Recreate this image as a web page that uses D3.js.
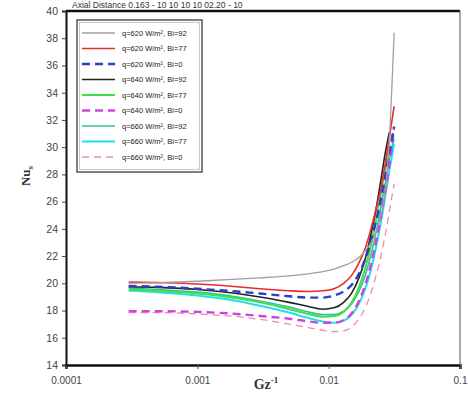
<!DOCTYPE html>
<html><head><meta charset="utf-8">
<script src="https://cdn.jsdelivr.net/npm/d3@7"></script>
<style>
html,body{margin:0;padding:0;background:#fff;}
svg{display:block;}
</style></head>
<body>
<svg id="chart" width="468" height="412"></svg>
<script>
// ---- data ----
const gzInv = [0.0003, 0.0005, 0.001, 0.002, 0.003, 0.005, 0.007, 0.009, 0.011, 0.013, 0.015, 0.017, 0.019, 0.021, 0.023, 0.025, 0.027, 0.029, 0.0315];
const seriesNames = [
  "q=620 W/m², Bi=92", "q=620 W/m², Bi=77", "q=620 W/m², Bi=0",
  "q=640 W/m², Bi=92", "q=640 W/m², Bi=77", "q=640 W/m², Bi=0",
  "q=660 W/m², Bi=92", "q=660 W/m², Bi=77", "q=660 W/m², Bi=0"
];
const q620Bi92 = [20.0, 20.05, 20.15, 20.3, 20.4, 20.55, 20.7, 20.85, 21.05, 21.3, 21.55, 21.9, 22.4, 23.0, 23.8, 25.0, 26.8, 30.6, 38.4];
const q620Bi77 = [20.1, 20.05, 19.95, 19.75, 19.6, 19.45, 19.4, 19.45, 19.6, 20.0, 20.6, 21.5, 22.6, 24.0, 25.5, 27.0, 28.8, 30.7, 33.0];
const q620Bi0  = [19.8, 19.75, 19.6, 19.4, 19.25, 19.05, 18.95, 18.95, 19.1, 19.4, 19.9, 20.7, 21.8, 23.1, 24.6, 26.2, 27.9, 29.6, 31.5];
const q640Bi92 = [19.75, 19.7, 19.55, 19.25, 19.0, 18.6, 18.3, 18.1, 18.2, 18.6, 19.3, 20.4, 21.8, 23.6, 25.5, 27.6, 29.6, 31.1, null];
const q640Bi77 = [19.55, 19.45, 19.25, 18.9, 18.6, 18.1, 17.75, 17.55, 17.6, 17.9, 18.6, 19.7, 21.1, 22.8, 24.7, 26.6, 28.5, 30.2, null];
const q640Bi0  = [17.95, 17.95, 17.9, 17.75, 17.6, 17.4, 17.2, 17.1, 17.1, 17.3, 17.8, 18.7, 19.9, 21.4, 23.1, 24.9, 26.8, 28.7, 31.5];
const q660Bi92 = [19.65, 19.55, 19.35, 19.0, 18.7, 18.25, 17.9, 17.7, 17.7, 17.95, 18.5, 19.4, 20.6, 22.1, 23.8, 25.6, 27.4, 29.2, 30.6];
const q660Bi77 = [19.45, 19.35, 19.1, 18.7, 18.35, 17.85, 17.45, 17.2, 17.1, 17.25, 17.7, 18.5, 19.6, 21.0, 22.7, 24.5, 26.4, 28.3, 30.2];
const q660Bi0  = [17.85, 17.85, 17.75, 17.55, 17.35, 17.0, 16.75, 16.55, 16.45, 16.5, 16.8, 17.4, 18.2, 19.3, 20.6, 22.0, 23.6, 25.3, 27.3];
const seriesValues = [q620Bi92, q620Bi77, q620Bi0, q640Bi92, q640Bi77, q640Bi0, q660Bi92, q660Bi77, q660Bi0];
const xTicks = [0.0001, 0.001, 0.01, 0.1];
const xTickLabels = ["0.0001", "0.001", "0.01", "0.1"];
const yTicks = [14, 16, 18, 20, 22, 24, 26, 28, 30, 32, 34, 36, 38, 40];

// ---- styles ----
const styles = [
  {color: "#a0a0a0", width: 1.3, dash: null},
  {color: "#ee2a2a", width: 1.6, dash: null},
  {color: "#2a3fc8", width: 2.4, dash: "8,5"},
  {color: "#222222", width: 1.6, dash: null},
  {color: "#44dd44", width: 2.0, dash: null},
  {color: "#cc44dd", width: 2.4, dash: "8,5"},
  {color: "#33c0a0", width: 1.6, dash: null},
  {color: "#22e0e8", width: 2.0, dash: null},
  {color: "#f08ab0", width: 1.3, dash: "7,5"}
];

const svg = d3.select("#chart");
const x = d3.scaleLog().domain([0.0001, 0.1]).range([66, 460]);
const y = d3.scaleLinear().domain([14, 40]).range([365, 11]);

// title (at top edge)
svg.append("text").attr("x", 72).attr("y", 7.5)
  .attr("font-family", "Liberation Sans, Arial, sans-serif").attr("font-size", 8.5).attr("fill", "#333")
  .text("Axial Distance 0.163 - 10 10 10 10   02.20 - 10");

// axes
const xAxis = d3.axisBottom(x).tickValues(xTicks).tickFormat((d, i) => xTickLabels[i]).tickSize(4).tickPadding(8);
const gx = svg.append("g").attr("transform", "translate(0,365)").call(xAxis);
gx.select(".domain").attr("stroke", "#111").attr("stroke-width", 2.5);
gx.selectAll(".tick line").attr("stroke", "#555");
gx.selectAll(".tick text").attr("font-family", "Liberation Sans Narrow, Liberation Sans, Arial, sans-serif").attr("font-size", 10).attr("fill", "#444");

const yAxis = d3.axisLeft(y).tickValues(yTicks).tickSize(4).tickPadding(4);
const gy = svg.append("g").attr("transform", "translate(66,0)").call(yAxis);
gy.select(".domain").attr("stroke", "#111").attr("stroke-width", 2);
gy.selectAll(".tick line").attr("stroke", "#444");
gy.selectAll(".tick text").attr("font-family", "Liberation Sans Narrow, Liberation Sans, Arial, sans-serif").attr("font-size", 10.5).attr("fill", "#444");

// frame top and right
svg.append("line").attr("x1", 66).attr("x2", 460).attr("y1", y(40)).attr("y2", y(40)).attr("stroke", "#111").attr("stroke-width", 2.5);
svg.append("line").attr("x1", 460).attr("x2", 460).attr("y1", y(40)).attr("y2", y(14)).attr("stroke", "#555").attr("stroke-width", 1);

// lines
const line = d3.line().defined(d => d[1] != null).x(d => x(d[0])).y(d => y(d[1])).curve(d3.curveMonotoneX);
const drawOrder = [8, 7, 6, 5, 4, 3, 2, 1, 0];
drawOrder.forEach(i => {
  const pts = gzInv.map((g, j) => [g, seriesValues[i][j]]);
  const p = svg.append("path").datum(pts).attr("d", line)
    .attr("fill", "none").attr("stroke", styles[i].color).attr("stroke-width", styles[i].width);
  if (styles[i].dash) p.attr("stroke-dasharray", styles[i].dash);
});

// legend
const lg = svg.append("g");
lg.append("rect").attr("x", 77).attr("y", 20).attr("width", 125).attr("height", 152)
  .attr("fill", "#fff").attr("stroke", "#555").attr("stroke-width", 1.5);
lg.append("rect").attr("x", 79.5).attr("y", 22.5).attr("width", 120).attr("height", 147)
  .attr("fill", "none").attr("stroke", "#bbb").attr("stroke-width", 0.8);
seriesNames.forEach((name, i) => {
  const yy = 33 + i * 15.5;
  const l = lg.append("line").attr("x1", 82).attr("x2", 115).attr("y1", yy).attr("y2", yy)
    .attr("stroke", styles[i].color).attr("stroke-width", styles[i].width);
  if (styles[i].dash) l.attr("stroke-dasharray", styles[i].dash);
  lg.append("text").attr("x", 122).attr("y", yy + 2.5)
    .attr("font-family", "Liberation Sans Narrow, Liberation Sans, Arial, sans-serif").attr("font-size", 7.5).attr("fill", "#222")
    .text(name);
});

// axis titles
const yl = svg.append("text").attr("transform", "translate(30,176) rotate(-90)").attr("text-anchor", "middle")
  .attr("font-family", "Liberation Serif, Times New Roman, serif").attr("font-size", 13).attr("font-weight", "bold").attr("fill", "#333");
yl.append("tspan").text("Nu");
yl.append("tspan").attr("font-size", 9).attr("dy", 3).text("s");

const xl = svg.append("text").attr("x", 266).attr("y", 389).attr("text-anchor", "middle")
  .attr("font-family", "Liberation Serif, Times New Roman, serif").attr("font-size", 14).attr("font-weight", "bold").attr("fill", "#333");
xl.append("tspan").text("Gz");
xl.append("tspan").attr("font-size", 9).attr("dy", -6).text("-1");
</script>
</body></html>
